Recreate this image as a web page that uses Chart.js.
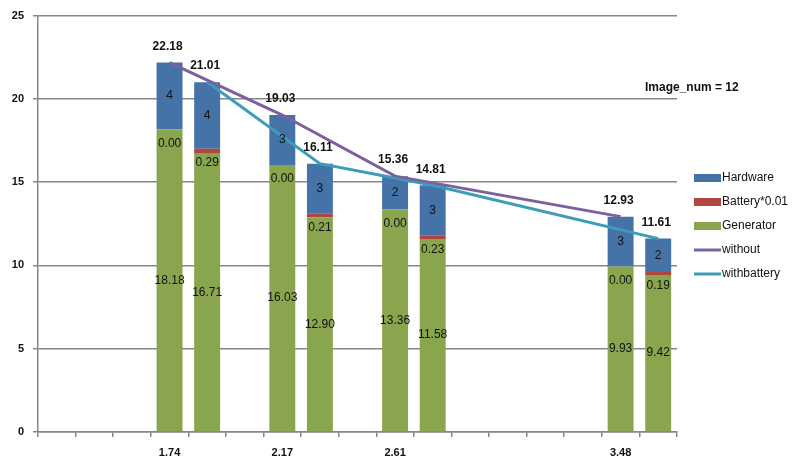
<!DOCTYPE html>
<html>
<head>
<meta charset="utf-8">
<script src="https://cdn.jsdelivr.net/npm/chart.js@4"></script>
<style>
  html, body { margin: 0; padding: 0; background: #fff; }
  #wrap { width: 793px; height: 461px; position: relative; }
</style>
</head>
<body>
<div id="wrap"><canvas id="chart"></canvas></div>
<script>
// 17 category slots, only four carry a tick label
const xLabels = ["", "", "", "1.74", "", "", "2.17", "", "", "2.61", "", "", "", "", "", "3.48", ""];
const generator = [null, null, null, 18.18, 16.71, null, 16.03, 12.90, null, 13.36, 11.58, null, null, null, null, 9.93, 9.42];
const battery   = [null, null, null, 0.00, 0.29, null, 0.00, 0.21, null, 0.00, 0.23, null, null, null, null, 0.00, 0.19];
const hardware  = [null, null, null, 4, 4, null, 3, 3, null, 2, 3, null, null, null, null, 3, 2];
const without     = [null, null, null, 22.18, null, null, 19.03, null, null, 15.36, null, null, null, null, null, 12.93, null];
const withBattery = [null, null, null, null, 21.01, null, null, 16.11, null, null, 14.81, null, null, null, null, null, 11.61];
const yTicks = [0, 5, 10, 15, 20, 25];
const noteText = "Image_num = 12";

const C_HW = "#4572A7", C_BAT = "#B0473F", C_GEN = "#89A54E", C_WO = "#7D60A0", C_WB = "#3D9DB8";
const AXIS = "#868686";
const FONT = "'Liberation Sans', Arial, sans-serif";

const labelPlugin = {
  id: "valueLabels",
  afterDatasetsDraw(chart) {
    const ctx = chart.ctx;
    ctx.save();
    ctx.textAlign = "center";
    ctx.textBaseline = "middle";
    chart.data.datasets.forEach((ds, di) => {
      const meta = chart.getDatasetMeta(di);
      meta.data.forEach((el, i) => {
        const v = ds.data[i];
        if (v === null || v === undefined) return;
        const p = el.getProps(["x", "y", "base"], true);
        ctx.fillStyle = "#111";
        if (ds.type === "line") {
          ctx.font = "bold 12px " + FONT;
          ctx.fillText(v.toFixed(2), p.x - 2, p.y - 16);
        } else if (ds.key === "gen") {
          ctx.font = "12px " + FONT;
          ctx.fillText(v.toFixed(2), p.x, (p.y + p.base) / 2);
        } else if (ds.key === "bat") {
          ctx.font = "12px " + FONT;
          ctx.fillText(v.toFixed(2), p.x, p.y + 14);
        } else if (ds.key === "hw") {
          ctx.font = "12px " + FONT;
          ctx.fillText(String(v), p.x, (p.y + p.base) / 2);
        }
      });
    });
    ctx.restore();
  }
};

const legendPlugin = {
  id: "sideLegend",
  afterDraw(chart) {
    const ctx = chart.ctx;
    const items = [
      { text: "Hardware", color: C_HW, bar: true },
      { text: "Battery*0.01", color: C_BAT, bar: true },
      { text: "Generator", color: C_GEN, bar: true },
      { text: "without", color: C_WO, bar: false },
      { text: "withbattery", color: C_WB, bar: false },
    ];
    ctx.save();
    ctx.font = "12px " + FONT;
    ctx.textBaseline = "middle";
    ctx.textAlign = "left";
    items.forEach((it, i) => {
      const y = 178 + i * 24;
      ctx.fillStyle = it.color;
      if (it.bar) ctx.fillRect(694, y - 4, 27, 8);
      else ctx.fillRect(694, y - 1.5, 27, 3);
      ctx.fillStyle = "#111";
      ctx.fillText(it.text, 722, y);
    });
    ctx.font = "bold 12px " + FONT;
    ctx.fillText(noteText, 645, 88);
    ctx.restore();
  }
};

new Chart(document.getElementById("chart"), {
  data: {
    labels: xLabels,
    datasets: [
      { type: "line", label: "without", data: without, borderColor: C_WO, borderWidth: 3,
        pointRadius: 0, spanGaps: true, tension: 0, stack: "l1", order: 0 },
      { type: "line", label: "withbattery", data: withBattery, borderColor: C_WB, borderWidth: 3,
        pointRadius: 0, spanGaps: true, tension: 0, stack: "l2", order: 0 },
      { type: "bar", key: "gen", label: "Generator", data: generator, backgroundColor: C_GEN, stack: "b", order: 1 },
      { type: "bar", key: "bat", label: "Battery*0.01", data: battery, backgroundColor: C_BAT, stack: "b", order: 1 },
      { type: "bar", key: "hw", label: "Hardware", data: hardware, backgroundColor: C_HW, stack: "b", order: 1 },
    ],
  },
  options: {
    responsive: true,
    maintainAspectRatio: false,
    animation: false,
    layout: { padding: { top: 15, right: 116, bottom: 0, left: 0 } },
    datasets: { bar: { barPercentage: 0.69, categoryPercentage: 1 } },
    plugins: { legend: { display: false }, tooltip: { enabled: false } },
    scales: {
      x: {
        stacked: true,
        offset: true,
        afterFit: s => { s.height = 29; },
        border: { color: AXIS, width: 1.5 },
        grid: { offset: true, drawOnChartArea: false, drawTicks: true, tickLength: 5, color: AXIS, lineWidth: 1.5 },
        ticks: { autoSkip: false, maxRotation: 0, padding: 9, color: "#111", font: { family: FONT, size: 11, weight: "bold" } },
      },
      y: {
        stacked: true,
        min: 0,
        max: 25,
        afterFit: s => { s.width = 38; },
        afterBuildTicks: s => { s.ticks = yTicks.map(v => ({ value: v })); },
        border: { color: AXIS, width: 1.5 },
        grid: { color: AXIS, lineWidth: 1.5, drawTicks: true, tickLength: 5 },
        ticks: { padding: 9, color: "#111", font: { family: FONT, size: 11, weight: "bold" } },
      },
    },
  },
  plugins: [labelPlugin, legendPlugin],
});
</script>
</body>
</html>
